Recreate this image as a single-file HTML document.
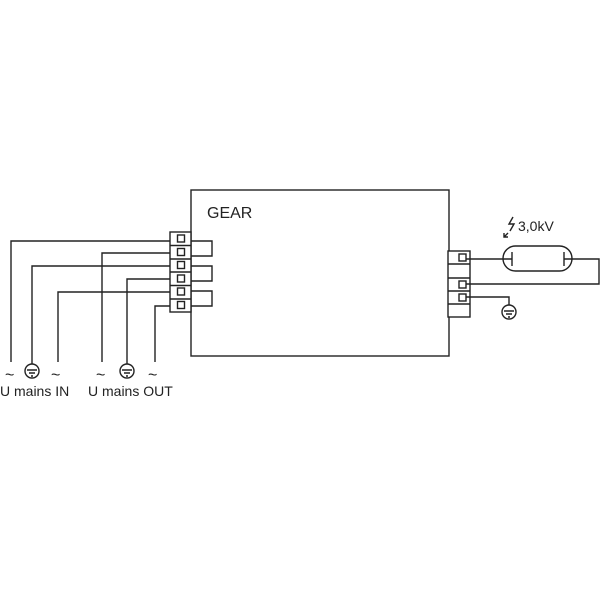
<!DOCTYPE html>
<html><head><style>body{margin:0;background:#fff}svg{display:block}</style></head><body>
<svg width="600" height="600" viewBox="0 0 600 600" xmlns="http://www.w3.org/2000/svg" font-family="Liberation Sans, sans-serif">
<g fill="none" stroke="#222" stroke-width="1.4">
<rect x="191" y="190" width="258" height="166"/>
<!-- left terminal -->
<rect x="170" y="232" width="21" height="80" fill="#fff"/>
<path d="M170 245.5H191M170 259H191M170 272H191M170 285.5H191M170 299H191"/>
<rect x="177.5" y="235" width="7" height="7"/><rect x="177.5" y="248.5" width="7" height="7"/>
<rect x="177.5" y="261.5" width="7" height="7"/><rect x="177.5" y="275" width="7" height="7"/>
<rect x="177.5" y="288" width="7" height="7"/><rect x="177.5" y="301.5" width="7" height="7"/>
<path d="M191 241H212V256H191M191 266H212V281H191M191 291H212V306H191"/>
<!-- wires -->
<path d="M170 241H11V362M170 253H102V362M170 266H32V364M170 279H127V364M170 292H58V362M170 306H155V362"/>
<circle cx="32" cy="371" r="7"/><path d="M27 370H37M29 373H35M31 376H33"/>
<circle cx="127" cy="371" r="7"/><path d="M122 370H132M124 373H130M126 376H128"/>
<!-- right terminal -->
<rect x="448" y="251" width="22" height="66" fill="#fff"/>
<path d="M448 264H470M448 278H470M448 291H470M448 304H470"/>
<rect x="459" y="254" width="7" height="7"/><rect x="459" y="281" width="7" height="7"/><rect x="459" y="294" width="7" height="7"/>
<path d="M466 259H512M564 259H599V284H466M466 297H509V305"/>
<rect x="503" y="246" width="69" height="25" rx="12.5"/>
<path d="M512 252V266M564 252V266"/>
<circle cx="509" cy="312" r="7"/><path d="M504 311H514M506 314H512M508 317H510"/>
<path d="M513 217L509 224H514L510 231"/><path d="M508 233L504 237M504 233V237H508" />
</g>
<g font-size="16" fill="#222">
<text x="207" y="218">GEAR</text>
</g>
<g font-size="14" fill="#222">
<text x="518" y="231">3,0kV</text>
<text x="0" y="396">U mains IN</text>
<text x="88" y="396">U mains OUT</text>
</g>
<g font-size="16" fill="#222">
<text x="5" y="380">~</text><text x="51" y="380">~</text>
<text x="96" y="380">~</text><text x="148" y="380">~</text>
</g>
</svg>
</body></html>
